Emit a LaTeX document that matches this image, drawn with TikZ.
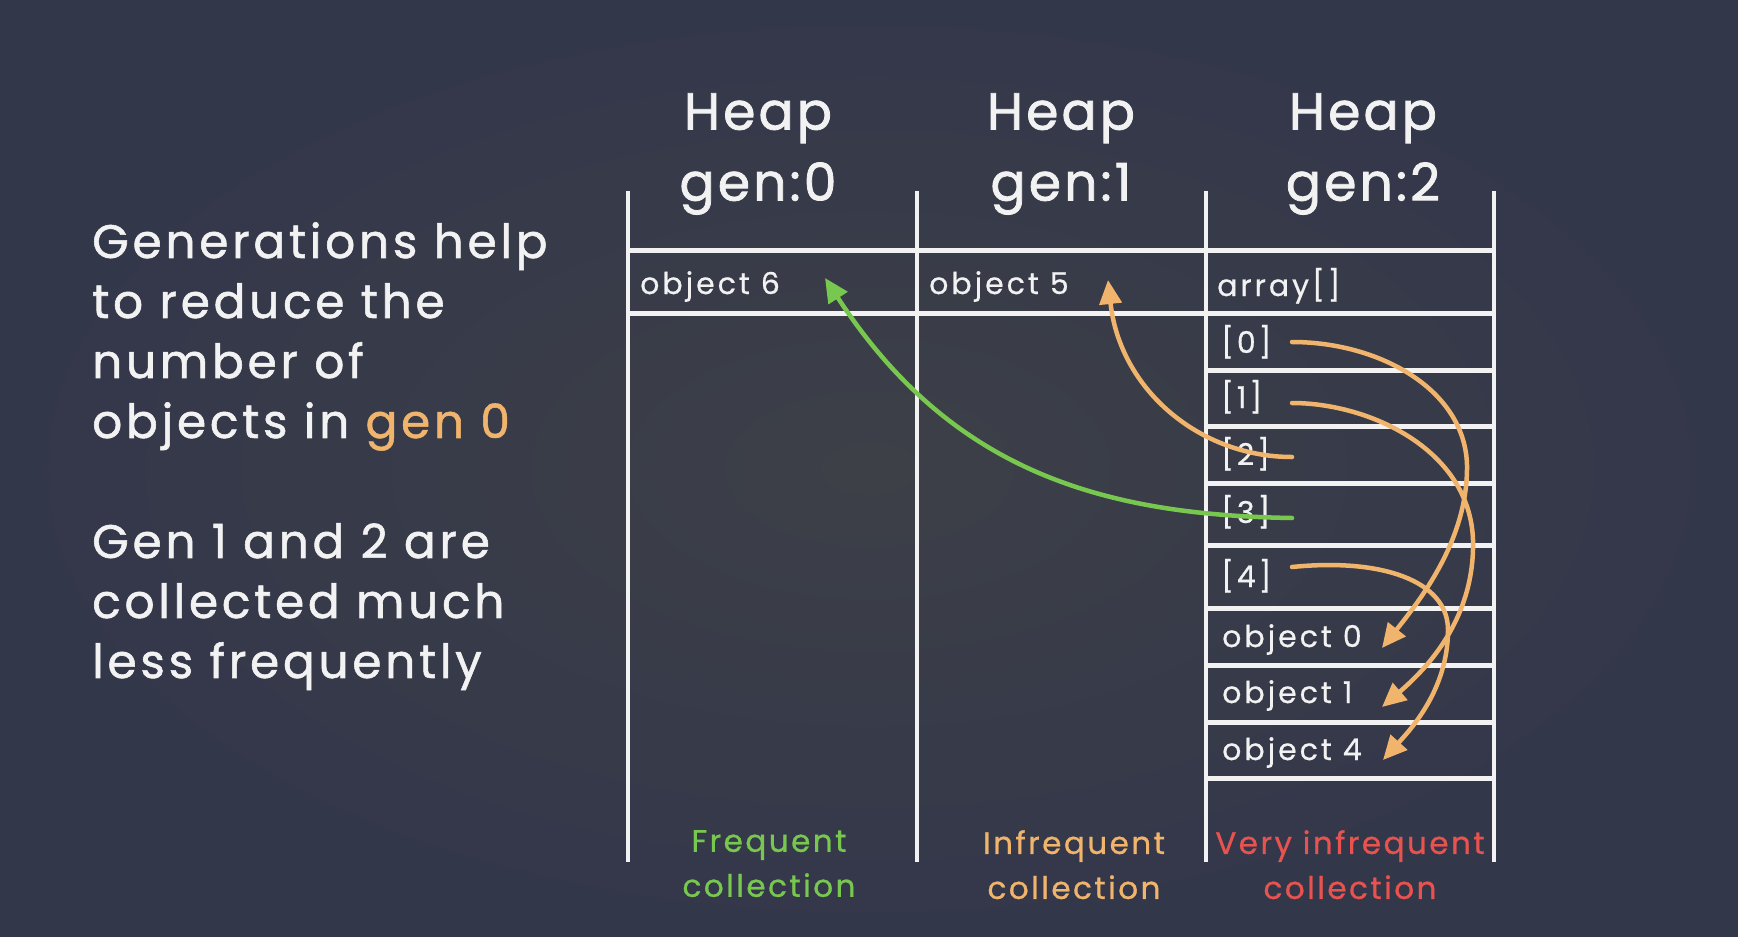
\documentclass[tikz,border=0pt]{standalone}
\usepackage{fontspec}
\setmainfont{Poppins}[LetterSpace=10]
\usetikzlibrary{arrows.meta,calc}
\definecolor{board}{HTML}{33374A}
\definecolor{boardlight}{HTML}{3D4047}
\definecolor{chalk}{HTML}{F2F2F2}
\definecolor{chalkgreen}{HTML}{78C850}
\definecolor{chalkorange}{HTML}{F0B46C}
\definecolor{chalkred}{HTML}{E8524F}
\tikzset{
  lefttext/.style={anchor=north west, inner sep=0pt, align=left, text=chalk,
    font=\fontsize{47}{60}\selectfont\addfontfeatures{LetterSpace=8,FakeBold=1.2}},
  header/.style={inner sep=0pt, align=center, text=chalk,
    font=\fontsize{52}{71}\selectfont\addfontfeatures{LetterSpace=6,FakeBold=1.5}},
  cell/.style={anchor=base west, inner sep=0pt, text=chalk,
    font=\fontsize{30}{36}\selectfont\addfontfeatures{FakeBold=0.6}},
  footer/.style={anchor=north, inner sep=0pt, align=center,
    font=\fontsize{31}{45}\selectfont\addfontfeatures{LetterSpace=8,FakeBold=0.8}},
  vrule/.style={draw=chalk, line width=4pt},
  hrule/.style={draw=chalk, line width=5pt},
  ptr/.style={line width=4.5pt, line cap=round,
    -{Triangle[length=24pt,width=22pt]}},
}
\begin{document}
\begin{tikzpicture}[x=1pt,y=-1pt]
% board
\shade[inner color=boardlight, outer color=board] (0,0) rectangle (1738,937);
\useasboundingbox (0,0) rectangle (1738,937);

% table frame
\foreach \x in {628,917,1206,1494} \draw[vrule] (\x,191) -- (\x,862);
\foreach \y in {250,313} \draw[hrule] (628,\y) -- (1494,\y);
\foreach \y in {370,426,483,545,608,665,722,778} \draw[hrule] (1206,\y) -- (1494,\y);

% left text
\node[lefttext] (note) at (92,222) {Generations help\\to reduce the\\number of\\objects in \textcolor{chalkorange}{gen 0}\\[60pt]Gen 1 and 2 are\\collected much\\less frequently};

% headers
\node[header] (h0) at (758,154) {Heap\\gen:0};
\node[header] (h1) at (1061,154) {Heap\\gen:1};
\node[header] (h2) at (1363,154) {Heap\\gen:2};

% cells
\node[cell] (obj6) at (640,294) {object 6};
\node[cell] (obj5) at (929,294) {object 5};
\node[cell] (arr) at (1217,296) {array[]};
\node[cell] (i0) at (1221,353) {[0]};
\node[cell] (i1) at (1221,408) {[1]};
\node[cell] (i2) at (1221,465) {[2]};
\node[cell] (i3) at (1221,523) {[3]};
\node[cell] (i4) at (1221,587) {[4]};
\node[cell] (o0) at (1222,647) {object 0};
\node[cell] (o1) at (1222,703) {object 1};
\node[cell] (o4) at (1222,760) {object 4};

% footers
\node[footer, text=chalkgreen] (f0) at (769,830) {Frequent\\collection};
\node[footer, text=chalkorange] (f1) at (1074,830) {Infrequent\\collection};
\node[footer, text=chalkred] (f2) at (1350,830) {Very infrequent\\collection};

% pointers
\draw[ptr, chalkgreen] ($(i3.base west)+(71,-5)$) .. controls (1100,515) and (950,470) .. ($(obj6.base west)+(185,-16)$);
\draw[ptr, chalkorange] ($(i2.base west)+(71,-8)$) .. controls (1200,457) and (1120,390) .. ($(obj5.base west)+(179,-14)$);
\draw[ptr, chalkorange] ($(i0.base west)+(71,-11)$) .. controls (1380,342) and (1465,390) .. (1467,465) .. controls (1468,540) and (1420,600) .. ($(o0.base west)+(160,1)$);
\draw[ptr, chalkorange] ($(i1.base west)+(71,-5)$) .. controls (1370,403) and (1470,450) .. (1473,540) .. controls (1475,620) and (1425,670) .. ($(o1.base west)+(160,4)$);
\draw[ptr, chalkorange] ($(i4.base west)+(71,-20)$) .. controls (1380,558) and (1448,580) .. (1448,630) .. controls (1448,690) and (1410,730) .. ($(o4.base west)+(161,0)$);
\end{tikzpicture}
\end{document}
